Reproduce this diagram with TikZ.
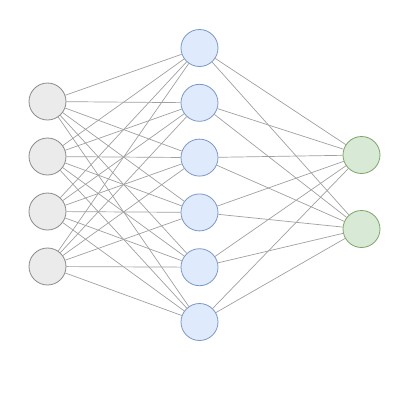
\documentclass[tikz,border=0pt]{standalone}
\usepackage{tikz}
\usetikzlibrary{calc,shapes}

\definecolor{ingray}{HTML}{EBEBEB}
\definecolor{instroke}{HTML}{8A8A8A}
\definecolor{hidblue}{HTML}{DFEBFC}
\definecolor{hidstroke}{HTML}{7A98C4}
\definecolor{outgreen}{HTML}{D8EAD6}
\definecolor{outstroke}{HTML}{7FA468}
\definecolor{edgegray}{HTML}{A0A0A0}

\begin{document}
\begin{tikzpicture}[x=1pt, y=-1pt,
    neuron/.style={circle, draw, minimum size=37pt, inner sep=0pt, line width=0.8pt},
    inneuron/.style={neuron, fill=ingray, draw=instroke},
    hidneuron/.style={neuron, fill=hidblue, draw=hidstroke},
    outneuron/.style={neuron, fill=outgreen, draw=outstroke},
    link/.style={draw=edgegray, line width=0.7pt}]
    \useasboundingbox (0,0) rectangle (400,400);
    % Place nodes
    \node [inneuron] (I1) at (47.5,101.5) {};
    \node [inneuron] (I2) at (47.5,156.5) {};
    \node [inneuron] (I3) at (47.5,211.5) {};
    \node [inneuron] (I4) at (47.5,266.5) {};
    \node [hidneuron] (H1) at (199.5,48) {};
    \node [hidneuron] (H2) at (199.5,102.8) {};
    \node [hidneuron] (H3) at (199.5,157.6) {};
    \node [hidneuron] (H4) at (199.5,212.4) {};
    \node [hidneuron] (H5) at (199.5,267.2) {};
    \node [hidneuron] (H6) at (199.5,322) {};
    \node [outneuron] (O1) at (361.5,155) {};
    \node [outneuron] (O2) at (361.5,229) {};
    % Draw links
    \foreach \i in {1,...,4}
        \foreach \h in {1,...,6}
            \path [link] (I\i) -- (H\h);
    \foreach \h in {1,...,6}
        \foreach \o in {1,2}
            \path [link] (H\h) -- (O\o);
\end{tikzpicture}
\end{document}
